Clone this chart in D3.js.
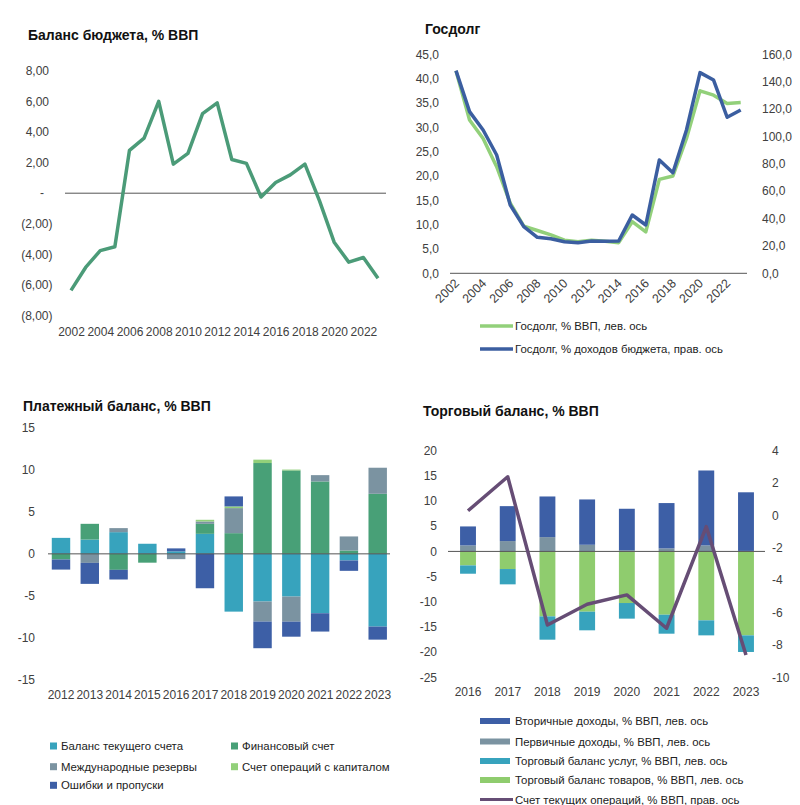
<!DOCTYPE html>
<html><head><meta charset="utf-8">
<script src="https://cdn.jsdelivr.net/npm/d3@7"></script>
<style>body{margin:0;background:#fff} text{font-family:"Liberation Sans",Arial,sans-serif}</style>
</head><body><svg id="c" width="800" height="805"></svg>
<script>
// ---------- DATA ----------
const budgetYears = [2002,2003,2004,2005,2006,2007,2008,2009,2010,2011,2012,2013,2014,2015,2016,2017,2018,2019,2020,2021,2022,2023];
const budgetBalance = [-6.35,-4.85,-3.75,-3.5,2.8,3.6,6.0,1.9,2.6,5.2,5.9,2.2,1.95,-0.25,0.7,1.2,1.9,-0.5,-3.2,-4.5,-4.2,-5.55];
const budgetTicks = [8,6,4,2,0,-2,-4,-6,-8];
const budgetLabelYears = [2002,2004,2006,2008,2010,2012,2014,2016,2018,2020,2022];

const debtYears = [2002,2003,2004,2005,2006,2007,2008,2009,2010,2011,2012,2013,2014,2015,2016,2017,2018,2019,2020,2021,2022,2023];
const debtGdp = [41.6,31.5,27.7,21.9,14.4,9.7,8.8,7.9,6.8,6.5,6.8,6.6,6.3,10.6,8.5,19.3,20.0,27.7,37.5,36.6,34.9,35.1];
const debtRevenue = [148.1,118.1,104.7,86.4,49.9,34.1,26.3,25.3,23.1,22.4,23.6,23.4,23.6,42.6,35.3,82.8,73.5,104.7,146.6,141.2,114.0,119.3];
const debtLeftTicks = [0,5,10,15,20,25,30,35,40,45];
const debtRightTicks = [0,20,40,60,80,100,120,140,160];
const debtLabelYears = [2002,2004,2006,2008,2010,2012,2014,2016,2018,2020,2022];
const debtSeriesNames = ["Госдолг, % ВВП, лев. ось","Госдолг, % доходов бюджета, прав. ось"];

const bopYears = [2012,2013,2014,2015,2016,2017,2018,2019,2020,2021,2022,2023];
const bopCurrent   = [1.9,1.7,2.58,1.2,0.3,2.38,-6.87,-5.67,-5.08,-7.06,-0.79,-8.65];
const bopFinancial = [-0.67,1.87,-1.9,-1.05,0,1.19,2.46,10.8,9.92,8.61,0.4,7.14];
const bopReserves  = [0,-1.07,0.48,0,-0.63,0.28,2.98,-2.38,-2.98,0.75,1.67,3.1];
const bopCapital   = [0,0,0,0,0,0.2,0.2,0.4,0.1,0,0,0];
const bopErrors    = [-1.2,-2.5,-1.15,0,0.35,-4.09,1.19,-3.17,-1.79,-2.18,-1.23,-1.55];
const bopTicks = [15,10,5,0,-5,-10,-15];
const bopNames = ["Баланс текущего счета","Финансовый счет","Международные резервы","Счет операций с капиталом","Ошибки и пропуски"];

const tradeYears = [2016,2017,2018,2019,2020,2021,2022,2023];
const tradeSecondary = [3.77,6.94,8.07,9.0,8.27,9.0,14.88,11.64];
const tradePrimary   = [1.19,2.05,2.84,1.32,0.2,0.6,1.19,0.1];
const tradeServices  = [-1.65,-3.04,-4.63,-3.7,-3.1,-3.77,-2.98,-3.3];
const tradeGoods     = [-2.78,-3.5,-12.9,-11.97,-10.25,-12.57,-13.69,-16.67];
const tradeCurrentAccount = [0.29,2.39,-6.77,-5.49,-4.91,-6.97,-0.69,-8.62];
const tradeLeftTicks = [20,15,10,5,0,-5,-10,-15,-20,-25];
const tradeRightTicks = [4,2,0,-2,-4,-6,-8,-10];
const tradeNames = ["Вторичные доходы, % ВВП, лев. ось","Первичные доходы, % ВВП, лев. ось","Торговый баланс услуг, % ВВП, лев. ось","Торговый баланс товаров, % ВВП, лев. ось","Счет текущих операций, % ВВП, прав. ось"];

// ---------- STYLE ----------
const C = {
  budget:"#4b9b78", debtGdp:"#92d07a", debtRev:"#3b5ea0",
  current:"#37a3bd", financial:"#48a077", reserves:"#7b93a1", capital:"#92d07a", errors:"#3d5fa6",
  secondary:"#3d5fa6", primary:"#7b93a1", services:"#37a3bd", goods:"#8fcc6e", ca:"#664d75",
  text:"#404040", zero:"#555"
};
const LEG = 11.4;
const svg = d3.select("#c");
svg.append("rect").attr("width",800).attr("height",805).attr("fill","#fff");

function title(x,y,t){ svg.append("text").attr("x",x).attr("y",y).attr("font-size",14).attr("font-weight","bold").attr("fill","#111").text(t); }
function leftLabels(ticks, y, x, fmt, anchorFn){
  const g = svg.append("g");
  g.selectAll("text").data(ticks).join("text")
    .attr("x", d => typeof x === "function" ? x(d) : x).attr("y", d => y(d)).attr("dy","0.35em")
    .attr("text-anchor", d => anchorFn ? anchorFn(d) : "end")
    .attr("font-size",12).attr("fill",C.text).text(fmt);
}
function zeroLine(x1,x2,y){ svg.append("line").attr("x1",x1).attr("x2",x2).attr("y1",y).attr("y2",y).attr("stroke",C.zero).attr("stroke-width",1); }

// ---------- PANEL 1 ----------
title(28,40,"Баланс бюджета, % ВВП");
{
  const x = d3.scalePoint().domain(budgetYears).range([71,378]);
  const y = d3.scaleLinear().domain([-8,8]).range([315.7,70.7]);
  const fmt = d => d===0 ? "-" : (d>0 ? d3.format(".2f")(d).replace(".",",") : "("+d3.format(".2f")(-d).replace(".",",")+")");
  leftLabels(budgetTicks, y, d => d===0?42:(d>0?49:52.5), fmt, d => d===0?"middle":"end");
  zeroLine(65,386,y(0));
  const ax = svg.append("g").attr("transform","translate(0,315.7)")
    .call(d3.axisBottom(x).tickValues(budgetLabelYears).tickSize(0).tickPadding(12));
  ax.select(".domain").remove();
  ax.selectAll("text").attr("font-size",12).attr("fill",C.text).attr("font-family",null);
  svg.append("path").datum(budgetBalance)
    .attr("fill","none").attr("stroke",C.budget).attr("stroke-width",3.5).attr("stroke-linejoin","round")
    .attr("d", d3.line().x((d,i)=>x(budgetYears[i])).y(d=>y(d)));
}

// ---------- PANEL 2 ----------
title(425,34,"Госдолг");
{
  const x = d3.scalePoint().domain(debtYears).range([456,740.7]);
  const yL = d3.scaleLinear().domain([0,45]).range([273.3,54.3]);
  const yR = d3.scaleLinear().domain([0,160]).range([273.3,54.3]);
  leftLabels(debtLeftTicks, yL, 439, d => d3.format(".1f")(d).replace(".",","));
  leftLabels(debtRightTicks, yR, 762, d => d3.format(".1f")(d).replace(".",","), () => "start");
  zeroLine(450,747,yL(0));
  const g = svg.append("g");
  g.selectAll("text").data(debtLabelYears).join("text")
    .attr("transform", d => `translate(${x(d)+4},284) rotate(-45)`)
    .attr("text-anchor","end").attr("font-size",12.5).attr("fill",C.text).text(d=>d);
  svg.append("path").datum(debtGdp).attr("fill","none").attr("stroke",C.debtGdp).attr("stroke-width",3.5).attr("stroke-linejoin","round")
    .attr("d", d3.line().x((d,i)=>x(debtYears[i])).y(d=>yL(d)));
  svg.append("path").datum(debtRevenue).attr("fill","none").attr("stroke",C.debtRev).attr("stroke-width",3.5).attr("stroke-linejoin","round")
    .attr("d", d3.line().x((d,i)=>x(debtYears[i])).y(d=>yR(d)));
  const leg = [[debtSeriesNames[0],C.debtGdp,326],[debtSeriesNames[1],C.debtRev,349]];
  leg.forEach(([t,c,yy])=>{
    svg.append("line").attr("x1",480).attr("x2",513).attr("y1",yy).attr("y2",yy).attr("stroke",c).attr("stroke-width",3.5);
    svg.append("text").attr("x",515).attr("y",yy+4).attr("font-size",LEG).attr("fill","#222").text(t);
  });
}

// ---------- PANEL 3 ----------
title(23,411,"Платежный баланс, % ВВП");
{
  const rows = bopYears.map((yr,i)=>({year:yr,current:bopCurrent[i],financial:bopFinancial[i],reserves:bopReserves[i],capital:bopCapital[i],errors:bopErrors[i]}));
  const keys = ["current","financial","reserves","capital","errors"];
  const x = d3.scaleBand().domain(bopYears).range([46.6,392.1]).paddingInner(0.36).paddingOuter(0.18);
  const y = d3.scaleLinear().domain([-15,15]).range([680,427.7]);
  leftLabels(bopTicks, y, 35, d => String(d));
  const series = d3.stack().keys(keys).offset(d3.stackOffsetDiverging)(rows);
  svg.append("g").selectAll("g").data(series).join("g").attr("fill", s => C[s.key])
    .selectAll("rect").data(s=>s).join("rect")
    .attr("x", d=>x(d.data.year)).attr("width", x.bandwidth())
    .attr("y", d=>y(Math.max(d[0],d[1]))).attr("height", d=>Math.abs(y(d[0])-y(d[1])));
  zeroLine(48,390,y(0));
  const ax = svg.append("g").attr("transform",`translate(0,680)`)
    .call(d3.axisBottom(x).tickSize(0).tickPadding(10));
  ax.select(".domain").remove();
  ax.selectAll("text").attr("font-size",12).attr("fill",C.text).attr("font-family",null);
  const legPos = [[50,746],[231,746],[50,766.7],[231,766.7],[50,785.3]];
  keys.forEach((k,i)=>{
    const [lx,ly] = legPos[i];
    svg.append("rect").attr("x",lx).attr("y",ly-3.5).attr("width",7).attr("height",7).attr("fill",C[k]);
    svg.append("text").attr("x",lx+11).attr("y",ly+4).attr("font-size",LEG).attr("fill","#222").text(bopNames[i]);
  });
}

// ---------- PANEL 4 ----------
title(423,416,"Торговый баланс, % ВВП");
{
  const rows = tradeYears.map((yr,i)=>({year:yr,goods:tradeGoods[i],services:tradeServices[i],primary:tradePrimary[i],secondary:tradeSecondary[i]}));
  const keys = ["goods","services","primary","secondary"];
  const x = d3.scaleBand().domain(tradeYears).range([448.15,765.85]).paddingInner(0.6).paddingOuter(0.3);
  const yL = d3.scaleLinear().domain([-25,20]).range([677.3,450.7]);
  const yR = d3.scaleLinear().domain([-10,4]).range([677.3,450.7]);
  leftLabels(tradeLeftTicks, yL, 437, d => String(d));
  leftLabels(tradeRightTicks, yR, 772, d => String(d), () => "start");
  const series = d3.stack().keys(keys).offset(d3.stackOffsetDiverging)(rows);
  svg.append("g").selectAll("g").data(series).join("g").attr("fill", s => C[s.key])
    .selectAll("rect").data(s=>s).join("rect")
    .attr("x", d=>x(d.data.year)).attr("width", x.bandwidth())
    .attr("y", d=>yL(Math.max(d[0],d[1]))).attr("height", d=>Math.abs(yL(d[0])-yL(d[1])));
  zeroLine(448,765,yL(0));
  svg.append("path").datum(tradeCurrentAccount).attr("fill","none").attr("stroke",C.ca).attr("stroke-width",3.5).attr("stroke-linejoin","round")
    .attr("d", d3.line().x((d,i)=>x(tradeYears[i])+x.bandwidth()/2).y(d=>yR(d)));
  const ax = svg.append("g").attr("transform",`translate(0,677.3)`)
    .call(d3.axisBottom(x).tickSize(0).tickPadding(10));
  ax.select(".domain").remove();
  ax.selectAll("text").attr("font-size",12).attr("fill",C.text).attr("font-family",null);
  const legColors = [C.secondary,C.primary,C.services,C.goods,C.ca];
  const legY = [721,741.5,761,780,799.5];
  tradeNames.forEach((t,i)=>{
    if(i<4) svg.append("rect").attr("x",480).attr("y",legY[i]-3).attr("width",30).attr("height",6).attr("fill",legColors[i]);
    else svg.append("line").attr("x1",480).attr("x2",513).attr("y1",legY[i]).attr("y2",legY[i]).attr("stroke",legColors[i]).attr("stroke-width",3);
    svg.append("text").attr("x",515).attr("y",legY[i]+4).attr("font-size",LEG).attr("fill","#222").text(t);
  });
}
</script></body></html>
